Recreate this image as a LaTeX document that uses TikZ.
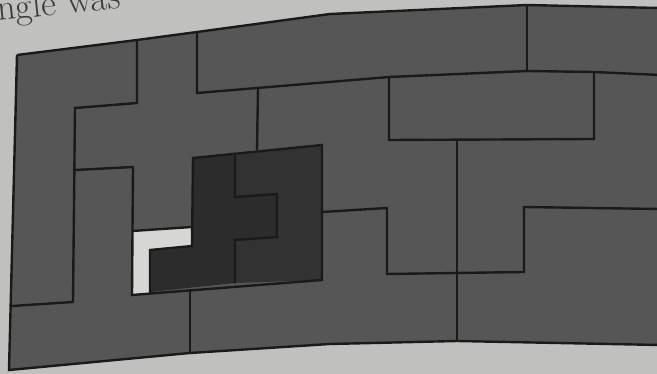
\documentclass[tikz,border=0pt]{standalone}
\usetikzlibrary{calc}
\definecolor{paper}{RGB}{192,192,190}
\definecolor{tile}{RGB}{86,86,86}
\definecolor{deep}{RGB}{50,50,50}
\definecolor{deeper}{RGB}{44,44,44}
\definecolor{blank}{RGB}{214,214,212}
\definecolor{ink}{RGB}{26,26,26}
\tikzset{
  seam/.style={draw=ink,line width=1.7pt,line join=miter},
  piece/.style={fill=#1},
  piece/.default=tile,
  print/.style={text=ink!85,font=\fontsize{26}{30}\selectfont,inner sep=0pt},
}

\begin{document}
\begin{tikzpicture}[x=0.025cm,y=-0.025cm]
  \fill[paper] (0,0) rectangle (657,374);
  \useasboundingbox (0,0) rectangle (657,374);
  \clip (0,0) rectangle (657,374);
  % caption line of the page, cut off
  \node[print,rotate=6,anchor=base west] (caption) at (-2,21) {ngle was};
  % the board
  \path[piece] (17,55) -- (137,40) -- (197,32) -- (330,14) -- (527,5) -- (657,8)
    -- (657,345) -- (457,341) -- (330,344) -- (190,353) -- (9,370) -- cycle;
  \path[piece=deeper] (193,158) -- (235,154) -- (235,197) -- (277,194) -- (277,237)
    -- (235,240) -- (235,283) -- (150,292) -- (150,250) -- (192,246) -- cycle;
  \path[piece=deep] (235,154) -- (322,145) -- (322,280) -- (235,283) -- (235,240)
    -- (277,237) -- (277,194) -- (235,197) -- cycle;
  \path[piece=blank] (132,231) -- (192,227) -- (192,246) -- (150,250) -- (150,293)
    -- (132,295) -- cycle;
  % seams
  \draw[seam] (17,55) -- (137,40) -- (197,32) -- (330,14) -- (527,5) -- (660,8);
  \draw[seam] (660,345) -- (457,341) -- (330,344) -- (190,353) -- (9,370) -- (17,55);
  \draw[seam] (137,40) -- (137,103) -- (75,108) -- (73,302) -- (12,306);
  \draw[seam] (75,170) -- (133,167) -- (132,295) -- (322,280) -- (322,145) -- (193,158) -- (192,246) -- (150,250) -- (150,293);
  \draw[seam] (132,231) -- (192,227);
  \draw[seam] (235,154) -- (235,197) -- (277,194) -- (277,237) -- (235,240) -- (235,283);
  \draw[seam] (197,32) -- (197,93) -- (389,77) -- (527,71) -- (594,72) -- (660,75);
  \draw[seam] (527,5) -- (527,71);
  \draw[seam] (258,88) -- (257,150);
  \draw[seam] (389,77) -- (389,140) -- (594,139) -- (594,72);
  \draw[seam] (457,140) -- (457,341);
  \draw[seam] (322,212) -- (387,208) -- (387,274) -- (524,272) -- (524,207) -- (660,209);
  \draw[seam] (190,290) -- (190,353);
\end{tikzpicture}
\end{document}
